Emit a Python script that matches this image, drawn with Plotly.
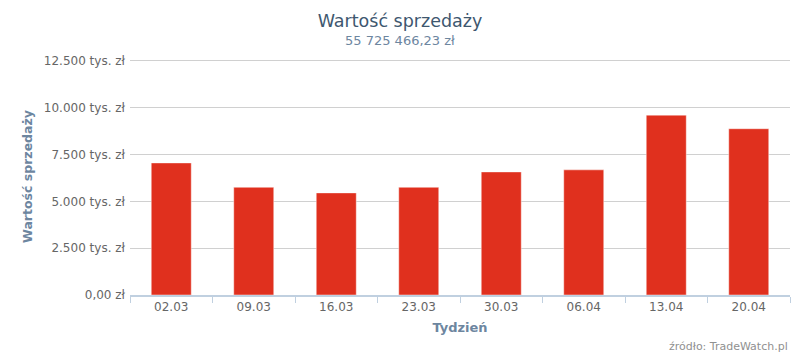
import plotly.graph_objects as go

weeks = ["02.03", "09.03", "16.03", "23.03", "30.03", "06.04", "13.04", "20.04"]
values_tys = [7050, 5750, 5450, 5750, 6570, 6680, 9600, 8875]
y_tickvals = [0, 2500, 5000, 7500, 10000, 12500]
y_ticktext = ["0,00 zł", "2.500 tys. zł", "5.000 tys. zł", "7.500 tys. zł", "10.000 tys. zł", "12.500 tys. zł"]

FONT = "DejaVu Sans"
Y_MAX = 12650
PLOT_BOTTOM = 295
PX_PER_UNIT = (295 - 61) / 12500
PLOT_TOP = PLOT_BOTTOM - Y_MAX * PX_PER_UNIT
PH = PLOT_BOTTOM - PLOT_TOP
PLOT_LEFT, PLOT_RIGHT = 130, 790


def py(pix):
    return (PLOT_BOTTOM - pix) / PH


def px(pix):
    return (pix - PLOT_LEFT) / (PLOT_RIGHT - PLOT_LEFT)


fig = go.Figure()
fig.add_trace(go.Bar(
    x=weeks, y=values_tys,
    marker=dict(color="#E0301E", line=dict(color="rgba(255,255,255,0.45)", width=1)),
    hoverinfo="x+y",
))

fig.update_layout(
    width=800, height=356,
    margin=dict(l=PLOT_LEFT, r=800 - PLOT_RIGHT, t=PLOT_TOP, b=356 - PLOT_BOTTOM),
    paper_bgcolor="white", plot_bgcolor="white",
    showlegend=False,
    bargap=0.515,
    font=dict(family=FONT, color="#666666", size=11),
    title=dict(text="Wartość sprzedaży", x=0.5, xanchor="center", y=1 - 21/356, yanchor="middle",
               font=dict(family=FONT, size=17.5, color="#3E576F")),
    xaxis=dict(
        type="category", range=[-0.5, 7.5],
        showline=True, linecolor="#C0D0E0", linewidth=2,
        ticks="outside", tickson="boundaries", ticklen=6, tickcolor="#C0D0E0", tickwidth=1,
        showgrid=False,
        tickfont=dict(family=FONT, size=12, color="#666666"),
        title=dict(text="<b>Tydzień</b>", standoff=9,
                   font=dict(family=FONT, size=13, color="#6D869F")),
    ),
    yaxis=dict(
        range=[0, Y_MAX], tickvals=y_tickvals, ticktext=y_ticktext,
        showgrid=True, gridcolor="#D0D0D0", gridwidth=1,
        zeroline=False, showline=False, ticks="",
        ticklabelstandoff=4,
        tickfont=dict(family=FONT, size=12, color="#666666"),
        title=dict(text="<b>Wartość sprzedaży</b>", standoff=8,
                   font=dict(family=FONT, size=12.5, color="#6D869F")),
    ),
    annotations=[
        dict(text="55 725 466,23 zł", x=px(400), y=py(41), xref="paper", yref="paper",
             xanchor="center", yanchor="middle", showarrow=False,
             font=dict(family=FONT, size=13, color="#6D869F")),
        dict(text="źródło: TradeWatch.pl", x=1.0, y=py(346), xref="paper", yref="paper",
             xanchor="right", yanchor="middle", showarrow=False,
             font=dict(family=FONT, size=11, color="#909090")),
    ],
)

fig.write_html("out.html")
